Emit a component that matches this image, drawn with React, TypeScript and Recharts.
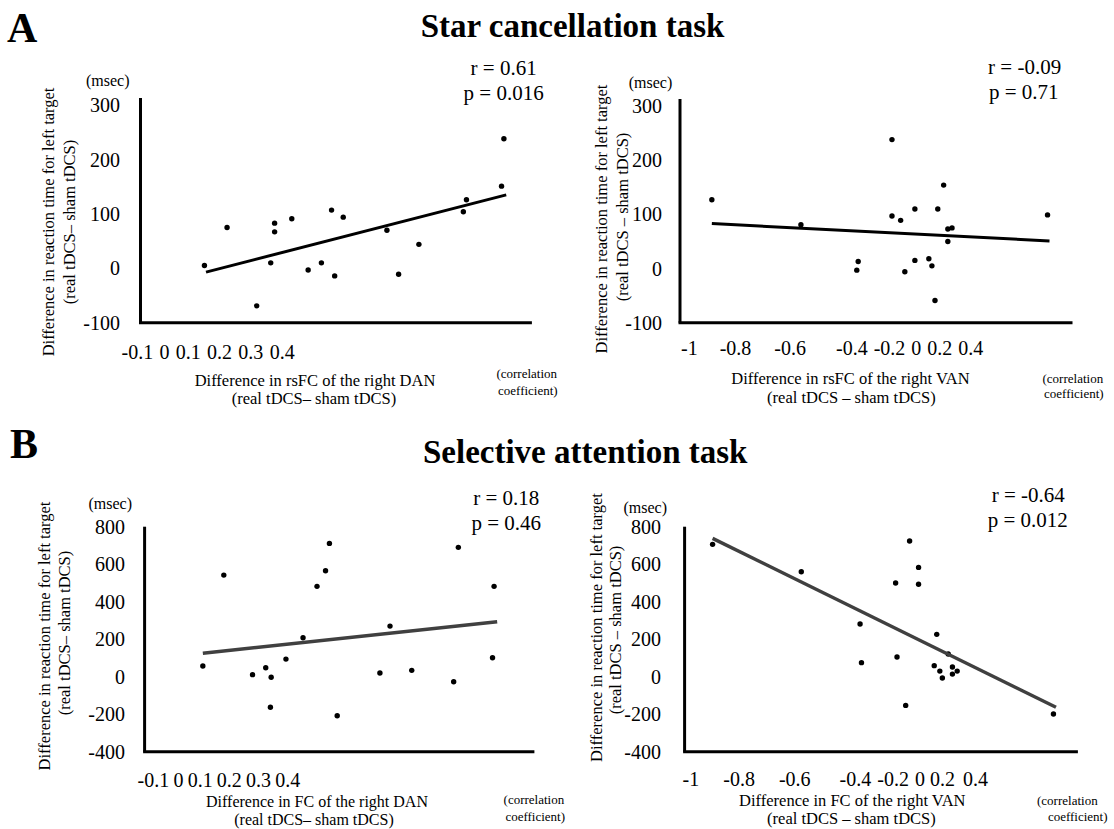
import { ScatterChart, Scatter, XAxis, YAxis } from "recharts";

const SERIF = "'Liberation Serif', 'Times New Roman', serif";

// A left: star cancellation, right DAN
const starDanX = [-0.018, 0.011, 0.049, 0.067, 0.072, 0.072, 0.094, 0.115, 0.132, 0.145, 0.149, 0.16, 0.216, 0.231, 0.257, 0.314, 0.318, 0.363, 0.366];
const starDanY = [5, 75, -69, 10, 83, 67, 91, -3, 10, 107, -14, 94, 70, -11, 44, 104, 126, 151, 238];
const starDanFitX = [-0.016, 0.369];
const starDanFitY = [-7, 135];

// A right: star cancellation, right VAN
const starVanX = [-0.886, -0.567, -0.362, -0.367, -0.241, -0.241, -0.21, -0.195, -0.159, -0.159, -0.109, -0.098, -0.087, -0.077, -0.056, -0.041, -0.026, -0.041, 0.316];
const starVanY = [127, 81, 13, -3, 238, 97, 89, -6, 110, 15, 18, 5, -59, 110, 154, 73, 75, 50, 99];
const starVanFitX = [-0.886, 0.323];
const starVanFitY = [83, 51];

// B left: selective attention, right DAN
const selDanX = [-0.025, 0.002, 0.039, 0.056, 0.063, 0.062, 0.082, 0.104, 0.122, 0.133, 0.138, 0.148, 0.203, 0.216, 0.244, 0.298, 0.304, 0.348, 0.35];
const selDanY = [57, 542, 11, 48, -3, -163, 94, 208, 482, 565, 711, -208, 20, 270, 34, -27, 690, 101, 482];
const selDanFitX = [-0.025, 0.354];
const selDanFitY = [125, 293];

// B right: selective attention, right VAN
const selVanX = [-0.9, -0.583, -0.373, -0.368, -0.246, -0.241, -0.21, -0.196, -0.164, -0.164, -0.108, -0.099, -0.088, -0.079, -0.058, -0.043, -0.043, -0.026, 0.318];
const selVanY = [706, 560, 281, 75, 500, 105, -153, 724, 583, 493, 59, 226, 30, -7, 121, 52, 14, 30, -199];
const selVanFitX = [-0.9, 0.327];
const selVanFitY = [738, -163];

const danTicks = [-0.1, 0, 0.1, 0.2, 0.3, 0.4];
const danTickLabels = ["-0.1", "0", "0.1", "0.2", "0.3", "0.4"];
const vanTicks = [-1, -0.8, -0.6, -0.4, -0.2, 0, 0.2, 0.4];
const vanTickLabels = ["-1", "-0.8", "-0.6", "-0.4", "-0.2", "0", "0.2", "0.4"];
const starYTicks = [-100, 0, 100, 200, 300];
const selYTicks = [-400, -200, 0, 200, 400, 600, 800];

const toPoints = (xs: number[], ys: number[]) => xs.map((x, i) => ({ x, y: ys[i] }));

const W = 557;
const H = 414;
const Y_W = 60;
const X_H = 40;

// the tick labels of the original sit packed together under the axis, as one row
const RowTick = (props: any) => {
  const { x, y, index, labels, gaps, dx, dy } = props;
  if (index !== 0) return <g />;
  return (
    <text x={x + dx} y={y + dy} dy="0.355em" fontSize={20} fontFamily={SERIF} fill="#000" textAnchor="start">
      {labels.map((l: string, i: number) => (
        <tspan key={l} dx={i === 0 ? 0 : gaps[i - 1]}>
          {l}
        </tspan>
      ))}
    </text>
  );
};

const Panel = (p: any) => {
  const margin = {
    left: p.plot.left - p.box.left - Y_W,
    top: p.plot.top - p.box.top,
    right: p.box.left + W - p.plot.right,
    bottom: p.box.top + H - p.plot.bottom - X_H,
  };
  return (
    <div style={{ position: "absolute", left: p.box.left, top: p.box.top }}>
      <ScatterChart width={W} height={H} margin={margin}>
        <XAxis
          type="number"
          dataKey="x"
          domain={[p.xTicks[0], p.xTicks[p.xTicks.length - 1]]}
          allowDataOverflow
          ticks={p.xTicks}
          interval={0}
          height={X_H}
          tickLine={false}
          tickSize={0}
          tickMargin={0}
          axisLine={{ stroke: "#000", strokeWidth: 3, strokeLinecap: "square" }}
          tick={(t: any) => <RowTick {...t} labels={p.xLabels} gaps={p.xGaps} dx={p.rowDx} dy={p.rowDy} />}
        />
        <YAxis
          type="number"
          dataKey="y"
          domain={p.yDomain}
          allowDataOverflow
          ticks={p.yTicks}
          interval={0}
          width={Y_W}
          tickLine={false}
          tickSize={0}
          tickMargin={p.yTickMargin}
          axisLine={{ stroke: "#000", strokeWidth: 3 }}
          tick={{ fill: "#000", fontSize: 20, fontFamily: SERIF }}
        />
        <Scatter
          data={p.points}
          isAnimationActive={false}
          shape={(s: any) => <circle cx={s.cx} cy={s.cy} r={2.7} fill="#000" />}
        />
        <Scatter
          data={p.fit}
          isAnimationActive={false}
          line={{ stroke: p.fitColor, strokeWidth: p.fitWidth, fill: "none" }}
          shape={() => <g />}
        />
      </ScatterChart>
    </div>
  );
};

const Txt = ({ x, y, size = 16.5, anchor = "middle", rotate = false, children }: any) => (
  <text
    x={x}
    y={y}
    fontSize={size}
    fontFamily={SERIF}
    textAnchor={anchor}
    dominantBaseline="central"
    fill="#000"
    transform={rotate ? `rotate(-90 ${x} ${y})` : undefined}
  >
    {children}
  </text>
);

const Title = ({ x, y, size, children }: any) => (
  <text x={x} y={y} fontSize={size} fontFamily={SERIF} fontWeight={700} fill="#000">
    {children}
  </text>
);

export default function App() {
  return (
    <div style={{ position: "absolute", left: 0, top: 0, width: 1114, height: 829, background: "#fff", overflow: "hidden" }}>
      <Panel
        box={{ left: 0, top: 0 }}
        plot={{ left: 140.5, top: 98, right: 530.4, bottom: 322.7 }}
        xTicks={danTicks}
        xLabels={danTickLabels}
        xGaps={[6.3, 6.3, 6.3, 6.3, 6.3]}
        rowDx={-19}
        rowDy={29.3}
        yDomain={[-100, 313]}
        yTicks={starYTicks}
        yTickMargin={20.5}
        points={toPoints(starDanX, starDanY)}
        fit={toPoints(starDanFitX, starDanFitY)}
        fitColor="#000"
        fitWidth={3}
      />
      <Panel
        box={{ left: 557, top: 0 }}
        plot={{ left: 680, top: 99, right: 1071, bottom: 322.7 }}
        xTicks={vanTicks}
        xLabels={vanTickLabels}
        xGaps={[22, 23, 30, 6, 6, 6, 6]}
        rowDx={1}
        rowDy={25.3}
        yDomain={[-100, 313]}
        yTicks={starYTicks}
        yTickMargin={18}
        points={toPoints(starVanX, starVanY)}
        fit={toPoints(starVanFitX, starVanFitY)}
        fitColor="#000"
        fitWidth={3}
      />
      <Panel
        box={{ left: 0, top: 415 }}
        plot={{ left: 144.6, top: 526.7, right: 532.9, bottom: 751.7 }}
        xTicks={danTicks}
        xLabels={danTickLabels}
        xGaps={[4.2, 4.2, 4.2, 4.2, 4.2]}
        rowDx={-7}
        rowDy={28.3}
        yDomain={[-400, 800]}
        yTicks={selYTicks}
        yTickMargin={19.6}
        points={toPoints(selDanX, selDanY)}
        fit={toPoints(selDanFitX, selDanFitY)}
        fitColor="#404040"
        fitWidth={3.5}
      />
      <Panel
        box={{ left: 557, top: 415 }}
        plot={{ left: 684.6, top: 526.7, right: 1076.4, bottom: 751.7 }}
        xTicks={vanTicks}
        xLabels={vanTickLabels}
        xGaps={[24, 24, 29, 6, 6, 5, 8]}
        rowDx={-2}
        rowDy={27.6}
        yDomain={[-400, 800]}
        yTicks={selYTicks}
        yTickMargin={23.6}
        points={toPoints(selVanX, selVanY)}
        fit={toPoints(selVanFitX, selVanFitY)}
        fitColor="#404040"
        fitWidth={3.5}
      />

      <svg width={1114} height={829} style={{ position: "absolute", left: 0, top: 0, pointerEvents: "none" }}>
        <Title x={7} y={41.7} size={42}>A</Title>
        <Title x={420.7} y={36.7} size={33}>Star cancellation task</Title>
        <Title x={10} y={458} size={42}>B</Title>
        <Title x={423} y={463} size={33}>Selective attention task</Title>

        {/* A left */}
        <Txt x={107.7} y={80} size={16}>(msec)</Txt>
        <Txt x={503.6} y={68} size={21}>r = 0.61</Txt>
        <Txt x={503.6} y={93} size={21}>p = 0.016</Txt>
        <Txt x={48.2} y={222} rotate>Difference in reaction time for left target</Txt>
        <Txt x={69.6} y={222} rotate>(real tDCS– sham tDCS)</Txt>
        <Txt x={315} y={380}>Difference in rsFC of the right DAN</Txt>
        <Txt x={314} y={398}>(real tDCS– sham tDCS)</Txt>
        <Txt x={496.4} y={373} size={13} anchor="start">(correlation</Txt>
        <Txt x={498} y={390} size={13} anchor="start">coefficient)</Txt>

        {/* A right */}
        <Txt x={650.5} y={82} size={16}>(msec)</Txt>
        <Txt x={1024.6} y={67} size={21}>r = -0.09</Txt>
        <Txt x={1023.8} y={92} size={21}>p = 0.71</Txt>
        <Txt x={601.4} y={219} rotate>Difference in reaction time for left target</Txt>
        <Txt x={622.9} y={217} rotate>(real tDCS – sham tDCS)</Txt>
        <Txt x={850.5} y={378}>Difference in rsFC of the right VAN</Txt>
        <Txt x={851.4} y={397}>(real tDCS – sham tDCS)</Txt>
        <Txt x={1042.5} y={378} size={13} anchor="start">(correlation</Txt>
        <Txt x={1044} y={393} size={13} anchor="start">coefficient)</Txt>

        {/* B left */}
        <Txt x={110.2} y={503} size={16}>(msec)</Txt>
        <Txt x={506.3} y={498} size={21}>r = 0.18</Txt>
        <Txt x={506.3} y={523} size={21}>p = 0.46</Txt>
        <Txt x={44.6} y={636} rotate>Difference in reaction time for left target</Txt>
        <Txt x={64.3} y={633} rotate>(real tDCS– sham tDCS)</Txt>
        <Txt x={317} y={801} size={16}>Difference in FC of the right DAN</Txt>
        <Txt x={314} y={819.5} size={16}>(real tDCS– sham tDCS)</Txt>
        <Txt x={503.6} y={799} size={13} anchor="start">(correlation</Txt>
        <Txt x={505.4} y={816} size={13} anchor="start">coefficient)</Txt>

        {/* B right */}
        <Txt x={645.2} y={507} size={16}>(msec)</Txt>
        <Txt x={1028.2} y={495} size={21}>r = -0.64</Txt>
        <Txt x={1027.7} y={520} size={21}>p = 0.012</Txt>
        <Txt x={596} y={627.5} rotate>Difference in reaction time for left target</Txt>
        <Txt x={615.7} y={630} rotate>(real tDCS – sham tDCS)</Txt>
        <Txt x={852.3} y={800}>Difference in FC of the right VAN</Txt>
        <Txt x={851.4} y={818}>(real tDCS – sham tDCS)</Txt>
        <Txt x={1037} y={800} size={13} anchor="start">(correlation</Txt>
        <Txt x={1047.9} y={816.7} size={13} anchor="start">coefficient)</Txt>
      </svg>
    </div>
  );
}
